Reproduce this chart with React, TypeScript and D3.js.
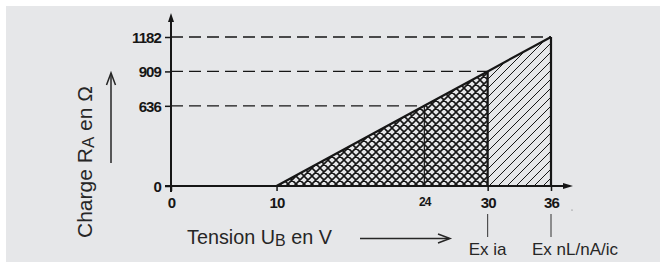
import React, { useRef, useEffect } from 'react';
import * as d3 from 'd3';

// values
const voltages: number[] = [10, 24, 30, 36];
const loads: number[] = [0, 636, 909, 1182];
const xTicks: number[] = [0, 10, 24, 30, 36];
const yTicks: number[] = [0, 636, 909, 1182];
const markedVoltages: number[] = [30, 36];
const markedLabels: string[] = ['Ex ia', 'Ex nL/nA/ic'];

const W = 660;
const H = 262;

function App() {
    const ref = useRef<SVGSVGElement>(null);

    useEffect(() => {
        if (!ref.current) return;
        const svg = d3.select(ref.current);
        svg.selectAll('*').remove();

        const x = d3.scaleLinear().domain([0, 36]).range([171, 551]);
        const y = d3.scaleLinear().domain([0, 1182]).range([186, 37]);
        const ink = '#161616';
        const font = '"Liberation Sans", Arial, sans-serif';

        svg.append('rect')
            .attr('x', 6).attr('y', 6)
            .attr('width', W - 6).attr('height', H - 6)
            .attr('fill', '#e6e7e9');

        const defs = svg.append('defs');
        const cross = defs.append('pattern')
            .attr('id', 'cross')
            .attr('patternUnits', 'userSpaceOnUse')
            .attr('width', 8).attr('height', 8);
        cross.append('path')
            .attr('d', 'M0,0L8,8M-1,7L1,9M7,-1L9,1M0,8L8,0M-1,1L1,-1M7,9L9,7')
            .attr('stroke', ink).attr('stroke-width', 1.6);
        const diag = defs.append('pattern')
            .attr('id', 'diag')
            .attr('patternUnits', 'userSpaceOnUse')
            .attr('width', 9).attr('height', 9);
        diag.append('path')
            .attr('d', 'M0,9L9,0M-1,1L1,-1M8,10L10,8')
            .attr('stroke', ink).attr('stroke-width', 1);

        // points of the load line
        const pts: [number, number][] = voltages.map((v, i) => [x(v), y(loads[i])]);
        const i30 = voltages.indexOf(30);
        const i24 = voltages.indexOf(24);

        // cross-hatched area (Ex ia)
        const area1: [number, number][] = [pts[0], pts[i30], [x(30), y(0)]];
        svg.append('path')
            .attr('d', d3.line()(area1) + 'Z')
            .attr('fill', 'url(#cross)');
        // hatched area (Ex nL/nA/ic)
        const area2: [number, number][] = [[x(30), y(0)], pts[i30], pts[3], [x(36), y(0)]];
        svg.append('path')
            .attr('d', d3.line()(area2) + 'Z')
            .attr('fill', 'url(#diag)');

        // dashed guides
        svg.append('g').selectAll('line')
            .data(voltages.slice(1))
            .join('line')
            .attr('x1', x(0)).attr('x2', d => x(d))
            .attr('y1', (d, i) => y(loads[i + 1]))
            .attr('y2', (d, i) => y(loads[i + 1]))
            .attr('stroke', ink).attr('stroke-width', 1.4)
            .attr('stroke-dasharray', '12,6');

        // thin vertical at 24
        svg.append('line')
            .attr('x1', x(24)).attr('x2', x(24))
            .attr('y1', y(loads[i24])).attr('y2', y(0))
            .attr('stroke', ink).attr('stroke-width', 1.2);

        // outline
        svg.append('path')
            .attr('d', d3.line()(pts))
            .attr('fill', 'none').attr('stroke', ink).attr('stroke-width', 2.2);
        svg.append('g').selectAll('line')
            .data(markedVoltages)
            .join('line')
            .attr('x1', d => x(d)).attr('x2', d => x(d))
            .attr('y1', d => y(loads[voltages.indexOf(d)])).attr('y2', y(0))
            .attr('stroke', ink).attr('stroke-width', 2.2);

        // axes
        const yAxis = d3.axisLeft(y).tickValues(yTicks).tickSize(6).tickFormat(d3.format('d'));
        const gy = svg.append('g').attr('transform', `translate(${x(0)},0)`).call(yAxis);
        gy.select('.domain').remove();
        gy.selectAll('line').attr('stroke', ink).attr('stroke-width', 1.5);
        gy.selectAll('text')
            .attr('x', -10).attr('dy', '0.36em')
            .attr('fill', ink)
            .style('font', `bold 15px ${font}`)
            .style('letter-spacing', '-0.9px');

        const xAxis = d3.axisBottom(x).tickValues(xTicks).tickSize(5).tickFormat(d3.format('d'));
        const gx = svg.append('g').attr('transform', `translate(0,${y(0)})`).call(xAxis);
        gx.select('.domain').remove();
        gx.selectAll('line')
            .attr('stroke', ink).attr('stroke-width', 1.5)
            .attr('display', (d: any) => (d === 24 ? 'none' : null));
        gx.selectAll('text')
            .attr('y', 11).attr('dy', '0.71em')
            .attr('fill', ink)
            .style('font', (d: any) => (d === 24 ? `bold 12px ${font}` : `bold 15px ${font}`))
            .style('letter-spacing', '-0.9px');

        // axis lines with arrow heads
        svg.append('line')
            .attr('x1', x(0)).attr('x2', x(0))
            .attr('y1', 192).attr('y2', 20)
            .attr('stroke', ink).attr('stroke-width', 2);
        svg.append('path')
            .attr('d', `M${x(0) - 3},22L${x(0)},13L${x(0) + 3},22Z`)
            .attr('fill', ink);
        svg.append('line')
            .attr('x1', x(0) - 6).attr('x2', 566)
            .attr('y1', y(0)).attr('y2', y(0))
            .attr('stroke', ink).attr('stroke-width', 2);
        svg.append('path')
            .attr('d', `M563,${y(0) - 3}L573,${y(0)}L563,${y(0) + 3}Z`)
            .attr('fill', ink);
        svg.append('circle').attr('cx', 572).attr('cy', 210).attr('r', 0.6).attr('fill', '#666');

        // protection labels
        svg.append('g').selectAll('line')
            .data(markedVoltages)
            .join('line')
            .attr('x1', d => x(d)).attr('x2', d => x(d))
            .attr('y1', 214).attr('y2', 237)
            .attr('stroke', '#333').attr('stroke-width', 1);
        svg.append('g').selectAll('text')
            .data(markedVoltages)
            .join('text')
            .attr('x', (d, i) => (i === 0 ? x(d) : x(d) - 19))
            .attr('y', 255)
            .attr('text-anchor', (d, i) => (i === 0 ? 'middle' : 'start'))
            .attr('fill', '#262626')
            .style('font', `17px ${font}`)
            .text((d, i) => markedLabels[i]);

        // x title + arrow
        const tx = svg.append('text')
            .attr('x', 187).attr('y', 244)
            .attr('fill', '#262626')
            .style('font', `19.8px ${font}`);
        tx.append('tspan').text('Tension U');
        tx.append('tspan').attr('dy', 2).style('font-size', '16px').text('B');
        tx.append('tspan').attr('dy', -2).text(' en V');
        svg.append('line')
            .attr('x1', 360).attr('x2', 449)
            .attr('y1', 238.5).attr('y2', 238.5)
            .attr('stroke', '#262626').attr('stroke-width', 1.5);
        svg.append('path')
            .attr('d', 'M438,234L450,238.5L438,243')
            .attr('fill', 'none').attr('stroke', '#262626').attr('stroke-width', 1.5);

        // y title + arrow
        const ty = svg.append('text')
            .attr('transform', 'translate(92,238) rotate(-90)')
            .attr('fill', '#262626')
            .style('font', `21px ${font}`);
        ty.append('tspan').text('Charge R');
        ty.append('tspan').attr('dy', 2).style('font-size', '17px').text('A');
        ty.append('tspan').attr('dy', -2).text(' en Ω');
        svg.append('line')
            .attr('x1', 111).attr('x2', 111)
            .attr('y1', 163).attr('y2', 74)
            .attr('stroke', '#262626').attr('stroke-width', 1.5);
        svg.append('path')
            .attr('d', 'M106.5,85L111,73L115.5,85')
            .attr('fill', 'none').attr('stroke', '#262626').attr('stroke-width', 1.5);
    }, []);

    return (
        <svg
            ref={ref}
            width={W}
            height={H}
            style={{ position: 'absolute', left: 0, top: 0, background: '#fff' }}
        />
    );
}

export default App;
